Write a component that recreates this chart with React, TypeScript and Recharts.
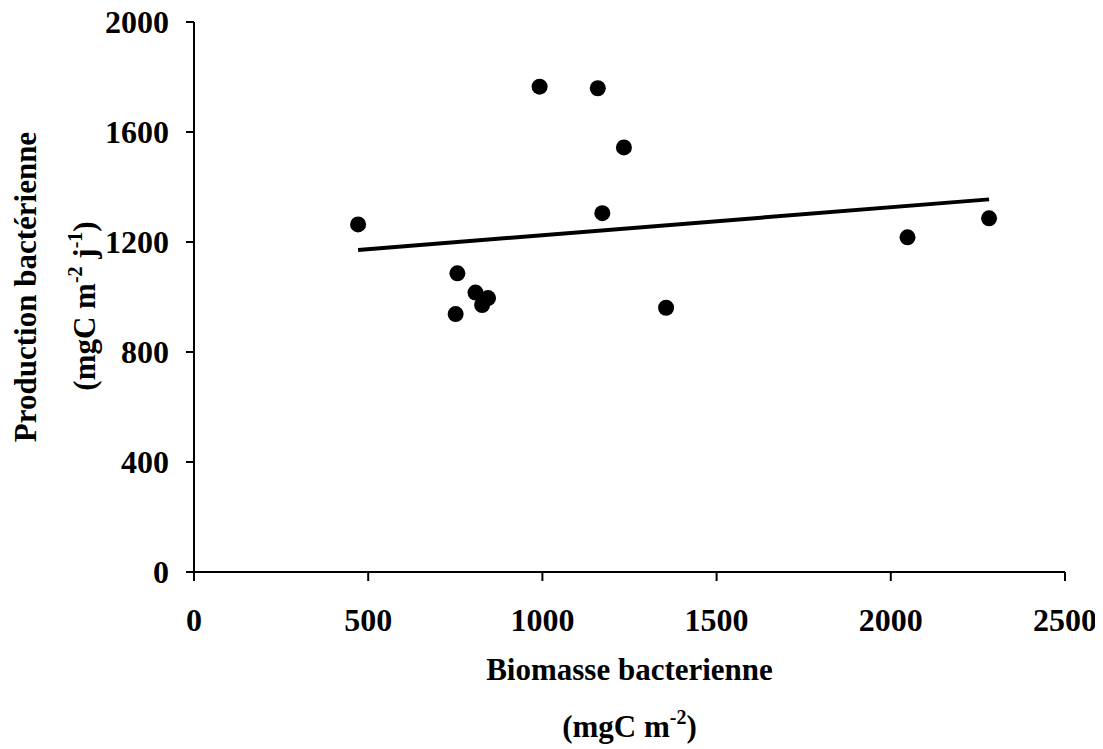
import React from "react";
import {
  ScatterChart,
  Scatter,
  XAxis,
  YAxis,
  ReferenceLine,
  Label,
} from "recharts";

// Biomasse bactérienne (mgC m-2) et production (mgC m-2 j-1)
const biomasse = [471, 992, 1159, 1234, 1172, 756, 808, 844, 827, 751, 1355, 2048, 2282];
const production = [1264, 1765, 1759, 1544, 1305, 1086, 1016, 996, 971, 938, 961, 1217, 1286];

// droite de tendance (extrémités)
const trendX = [471, 2282];
const trendY = [1171, 1355];

const xTicks = [0, 500, 1000, 1500, 2000, 2500];
const yTicks = [0, 400, 800, 1200, 1600, 2000];

const points = biomasse.map((x, i) => ({ x, y: production[i] }));

const FONT = "'Liberation Serif', 'Times New Roman', serif";

const tickStyle = {
  fontFamily: FONT,
  fontWeight: 700,
  fontSize: 32,
  fill: "#000",
};

const Dot = (props: any) => {
  const { cx, cy } = props;
  if (cx == null || cy == null) return null;
  return <circle cx={cx} cy={cy} r={8} fill="#000" />;
};

const XTitle = (props: any) => {
  const vb = props.viewBox || {};
  const cx = vb.x + vb.width / 2;
  return (
    <g fontFamily={FONT} fontWeight={700} fontSize={31} fill="#000">
      <text x={cx} y={vb.y + 108} textAnchor="middle">
        Biomasse bacterienne
      </text>
      <text x={cx} y={vb.y + 165} textAnchor="middle">
        (mgC m
        <tspan dy={-13} fontSize={20}>
          -2
        </tspan>
        <tspan dy={13}>)</tspan>
      </text>
    </g>
  );
};

const YTitle = (props: any) => {
  const vb = props.viewBox || {};
  const x1 = 36;
  const y1 = vb.y + 265;
  const x2 = 95;
  const y2 = vb.y + 284;
  return (
    <g fontFamily={FONT} fontWeight={700} fontSize={31} fill="#000">
      <text x={x1} y={y1} textAnchor="middle" transform={`rotate(-90, ${x1}, ${y1})`}>
        Production bactérienne
      </text>
      <text x={x2} y={y2} textAnchor="middle" transform={`rotate(-90, ${x2}, ${y2})`}>
        (mgC m
        <tspan dy={-13} fontSize={20}>
          -2
        </tspan>
        <tspan dy={13}> j</tspan>
        <tspan dy={-13} fontSize={20}>
          -1
        </tspan>
        <tspan dy={13}>)</tspan>
      </text>
    </g>
  );
};

export default function App() {
  return (
    <div style={{ width: 1103, height: 749, margin: "-8px 0 0 -8px", background: "#fff" }}>
      <ScatterChart
        width={1103}
        height={749}
        margin={{ top: 22, right: 38, left: 0, bottom: 0 }}
      >
        <XAxis
          type="number"
          dataKey="x"
          domain={[0, 2500]}
          ticks={xTicks}
          interval={0}
          height={177}
          stroke="#000"
          strokeWidth={2}
          tickSize={9}
          tickMargin={27}
          tick={tickStyle}
          tickLine={{ stroke: "#000", strokeWidth: 2 }}
        >
          <Label content={<XTitle />} />
        </XAxis>
        <YAxis
          type="number"
          dataKey="y"
          domain={[0, 2000]}
          ticks={yTicks}
          interval={0}
          width={194}
          stroke="#000"
          strokeWidth={2}
          tickSize={8}
          tickMargin={17}
          tick={tickStyle}
          tickLine={{ stroke: "#000", strokeWidth: 2 }}
        >
          <Label content={<YTitle />} />
        </YAxis>
        <ReferenceLine
          segment={[
            { x: trendX[0], y: trendY[0] },
            { x: trendX[1], y: trendY[1] },
          ]}
          stroke="#000"
          strokeWidth={4}
        />
        <Scatter
          data={points}
          fill="#000"
          shape={<Dot />}
          isAnimationActive={false}
        />
      </ScatterChart>
    </div>
  );
}
